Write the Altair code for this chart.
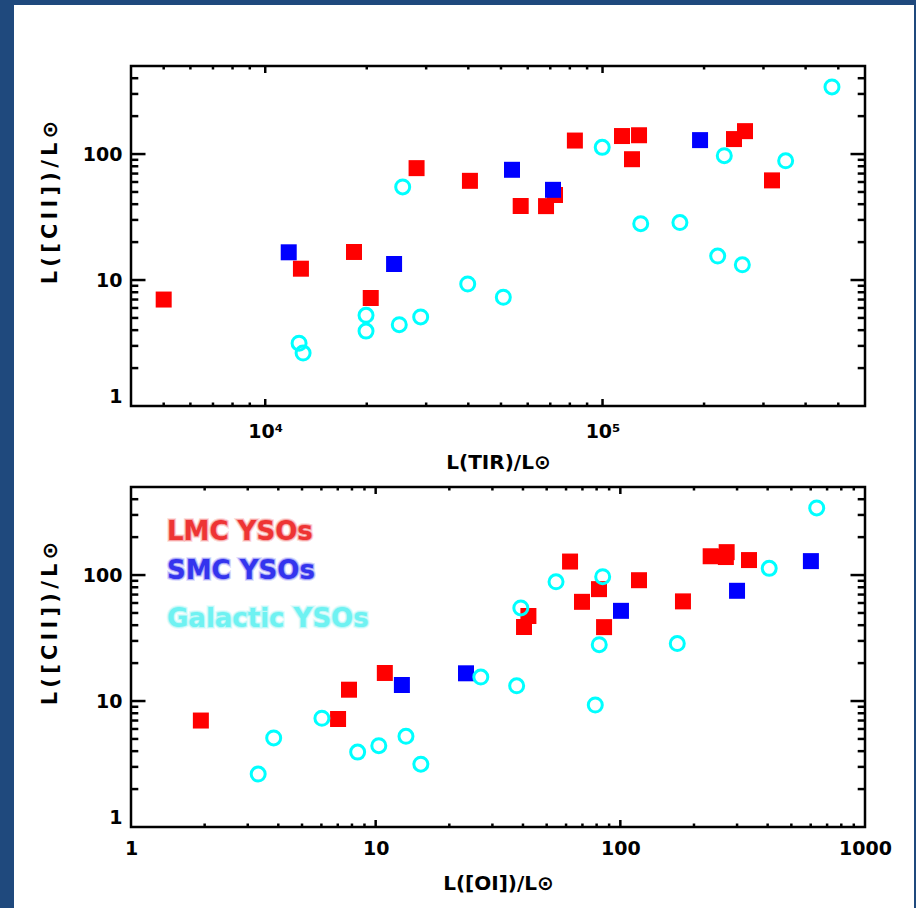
import altair as alt
import pandas as pd

# ---------------------------------------------------------------------------
# Data: [CII] luminosity against total-infrared and [OI] luminosities (L_sun)
# ---------------------------------------------------------------------------
lmc_tir = [5000, 20550, 12760, 18330, 72300, 57200, 68000, 82800, 40450,
           318000, 28100, 122300, 128300, 114200, 264500, 245300]
lmc_oi = [1.93, 7.02, 7.78, 10.9, 42.1, 40.4, 85.8, 62.3, 69.7,
          180.3, 81.8, 119.2, 234, 270, 272, 335.7]
lmc_cii = [7.0, 7.2, 12.3, 16.7, 47.3, 38.7, 38.6, 128, 61.3,
           61.8, 77.3, 91, 141, 139, 152, 131.5]

smc_tir = [11740, 24100, 71300, 53900, 194600]
smc_oi = [23.4, 12.8, 100.6, 299.9, 601]
smc_cii = [16.6, 13.4, 52, 75, 129]

gal_tir = [25560, 12600, 12950, 19900, 19900, 24970, 28900, 39840, 50800,
           99800, 129800, 169600, 229600, 219500, 259700, 349100, 478900]
gal_oi = [39.2, 15.3, 3.31, 13.3, 8.44, 10.3, 3.83, 79.0, 6.03,
          406, 82.0, 170.9, 84.7, 26.9, 37.7, 54.6, 634.8]
gal_cii = [54.8, 3.15, 2.63, 5.25, 3.93, 4.42, 5.09, 9.3, 7.3,
           113, 28.0, 28.6, 97, 15.5, 13.2, 88.4, 341]

group_names = ["LMC", "SMC", "Galactic"]
group_colors = ["#ff0000", "#0000ff", "#00ffff"]
legend_labels = ["LMC YSOs", "SMC YSOs", "Galactic YSOs"]
legend_colors = ["#ee3434", "#3434ee", "#6ff2f2"]

# axis ticks
tir_domain = [4000, 600000]
tir_major = [1e4, 1e5]
tir_minor = [5e3, 6e3, 7e3, 8e3, 9e3,
             2e4, 3e4, 4e4, 5e4, 6e4, 7e4, 8e4, 9e4,
             2e5, 3e5, 4e5, 5e5]
oi_domain = [1, 1000]
oi_major = [10, 100]
oi_minor = [2, 3, 4, 5, 6, 7, 8, 9, 20, 30, 40, 50, 60, 70, 80, 90,
            200, 300, 400, 500, 600, 700, 800, 900]
oi_labels = [1, 10, 100, 1000]
cii_domain = [1, 500]
cii_major = [10, 100]
cii_minor = [2, 3, 4, 5, 6, 7, 8, 9, 20, 30, 40, 50, 60, 70, 80, 90,
             200, 300, 400]
cii_labels = [1, 10, 100]

df = pd.DataFrame({
    "group": ["LMC"] * len(lmc_tir) + ["SMC"] * len(smc_tir) + ["Galactic"] * len(gal_tir),
    "tir": lmc_tir + smc_tir + gal_tir,
    "oi": lmc_oi + smc_oi + gal_oi,
    "cii": lmc_cii + smc_cii + gal_cii,
})

# ---------------------------------------------------------------------------
# Layout constants (pixels)
# ---------------------------------------------------------------------------
W, H = 734, 340
FONT = "DejaVu Sans"
BLUE_FRAME = "#1f497d"
one_row = pd.DataFrame({"k": [0]})
thin = "\u2009"
Y_TITLE = thin.join("L([CII])/L⊙")

color_scale = alt.Scale(domain=group_names, range=group_colors)


def panel(xfield, xdomain, xmajor, xminor, xvalues, xlabel_expr, xtitle,
          xlabel_pad, bg_top, bg_bottom, legend=False):
    xs = alt.Scale(type="log", domain=xdomain, nice=False)
    ys = alt.Scale(type="log", domain=cii_domain, nice=False)
    xaxis = alt.Axis(values=xvalues, labelExpr=xlabel_expr, ticks=False,
                     tickSize=0, domain=False, grid=False, title=xtitle,
                     labelPadding=xlabel_pad, labelFlush=False,
                     titleY=62, titleBaseline="alphabetic", zindex=2)
    yaxis = alt.Axis(values=cii_labels, format="d", ticks=False, tickSize=0,
                     domain=False, grid=False, title=Y_TITLE, labelPadding=9,
                     labelFlush=True, titleX=-75, titleY=136,
                     titleFontSize=21, titleBaseline="alphabetic", zindex=2)

    layers = []
    # white page behind the panel
    layers.append(
        alt.Chart(one_row).mark_rect(color="white").encode(
            x=alt.value(-117), x2=alt.value(783),
            y=alt.value(bg_top), y2=alt.value(bg_bottom))
    )

    def xticks(vals, length, side):
        y0 = H if side == "bottom" else 0
        y1 = H - length if side == "bottom" else length
        return alt.Chart(pd.DataFrame({"v": vals})).mark_rule(
            color="black", strokeWidth=2.5).encode(
            x=alt.X("v:Q", scale=xs, axis=xaxis),
            y=alt.value(y0), y2=alt.value(y1))

    def yticks(vals, length, side):
        x0 = 0 if side == "left" else W
        x1 = length if side == "left" else W - length
        return alt.Chart(pd.DataFrame({"v": vals})).mark_rule(
            color="black", strokeWidth=2.5).encode(
            y=alt.Y("v:Q", scale=ys, axis=yaxis),
            x=alt.value(x0), x2=alt.value(x1))

    for side in ("bottom", "top"):
        layers.append(xticks(xmajor, 7, side))
        layers.append(xticks(xminor, 3.5, side))
    for side in ("left", "right"):
        layers.append(yticks(cii_major, 14.5, side))
        layers.append(yticks(cii_minor, 7.3, side))

    base = alt.Chart(df).encode(
        x=alt.X(f"{xfield}:Q", scale=xs, axis=xaxis),
        y=alt.Y("cii:Q", scale=ys, axis=yaxis),
        color=alt.Color("group:N", scale=color_scale, legend=None),
    )
    squares = base.transform_filter(
        alt.FieldOneOfPredicate(field="group", oneOf=["LMC", "SMC"])
    ).mark_point(shape="square", filled=True, size=256, opacity=1)
    circles = base.transform_filter(
        alt.FieldEqualPredicate(field="group", equal="Galactic")
    ).mark_point(shape="circle", filled=False, size=196, strokeWidth=3,
                 opacity=1)
    layers += [squares, circles]

    # plot frame
    layers.append(
        alt.Chart(one_row).mark_rect(filled=False, stroke="black",
                                     strokeWidth=2.5, fillOpacity=0).encode(
            x=alt.value(0), x2=alt.value(W), y=alt.value(0), y2=alt.value(H))
    )

    if legend:
        baselines = [53, 92, 140]
        for label, col, yb in zip(legend_labels, legend_colors, baselines):
            for sw, so in ((4, 0.18), (2, 0.35)):
                layers.append(
                    alt.Chart(one_row).mark_text(
                        align="left", baseline="alphabetic", font=FONT,
                        fontSize=26, fontWeight="bold", fill=col, stroke=col,
                        strokeWidth=sw, strokeOpacity=so, fillOpacity=0.0
                    ).encode(x=alt.value(36), y=alt.value(yb),
                             text=alt.value(label))
                )
            layers.append(
                alt.Chart(one_row).mark_text(
                    align="left", baseline="alphabetic", font=FONT,
                    fontSize=26, fontWeight="bold", fill=col
                ).encode(x=alt.value(36), y=alt.value(yb),
                         text=alt.value(label))
            )

    return alt.layer(*layers).properties(width=W, height=H)


# the white page is split between the panels just below the upper x title
top = panel("tir", tir_domain, tir_major, tir_minor, tir_major,
            "datum.value == 10000 ? '10⁴' : '10⁵'", "L(TIR)/L⊙", 16,
            -61, 412)
bottom = panel("oi", oi_domain, oi_major, oi_minor, oi_labels,
               "format(datum.value, 'd')", "L([OI])/L⊙", 12,
               -9, 421, legend=True)

chart = alt.vconcat(top, bottom, spacing=0).properties(
    background=BLUE_FRAME,
    padding={"left": 14, "top": 5, "right": 2, "bottom": 0},
).configure_view(strokeWidth=0).configure_axis(
    labelFont=FONT, labelFontSize=19, labelFontWeight="bold",
    labelColor="black", titleFont=FONT, titleFontSize=20,
    titleFontWeight="bold", titleColor="black",
)

chart.save("out.html", embed_options={"renderer": "svg", "actions": False})
